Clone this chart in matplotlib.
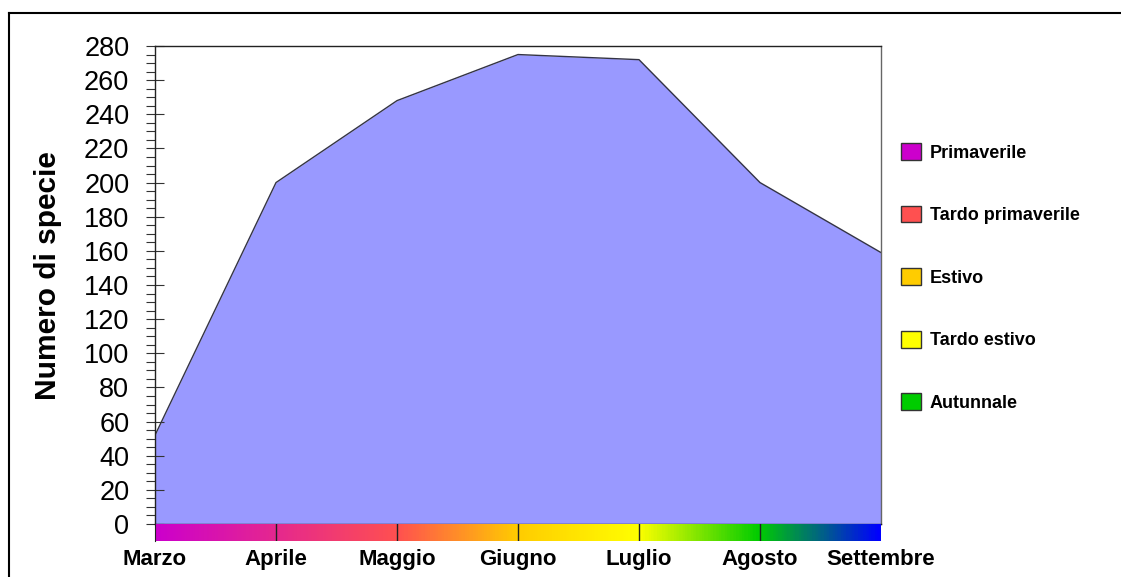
import numpy as np
import matplotlib
matplotlib.use("Agg")
import matplotlib.pyplot as plt
from matplotlib.colors import LinearSegmentedColormap
from matplotlib.patches import Patch
from matplotlib.lines import Line2D

plt.rcParams['font.family'] = ['Liberation Sans', 'DejaVu Sans']

# data
months = ['Marzo', 'Aprile', 'Maggio', 'Giugno', 'Luglio', 'Agosto', 'Settembre']
species = [52, 200, 248, 275, 272, 200, 159]

# colour bar under the x axis (stop position in months, colour)
bar_pos = [0, 2, 3, 4, 5, 6]
bar_colors = ['#CC00CC', '#FF5050', '#FFCC00', '#FFFF00', '#00CC00', '#0000FF']

legend_labels = ['Primaverile', 'Tardo primaverile', 'Estivo', 'Tardo estivo', 'Autunnale']
legend_colors = ['#CC00CC', '#FF5050', '#FFCC00', '#FFFF00', '#00CC00']

W, H = 1121, 577
fig = plt.figure(figsize=(W / 100, H / 100), dpi=100)

# main area chart
ax = fig.add_axes([155 / W, (H - 524) / H, 726 / W, 478 / H])
x = np.arange(len(months))
ax.fill_between(x, species, 0, color='#9999FF', lw=0)
ax.plot(x, species, color='#333344', lw=1)
ax.set_xlim(0, len(months) - 1)
ax.set_ylim(0, 280)
ax.set_yticks(range(0, 281, 20))
ax.set_yticks(range(0, 281, 5), minor=True)
ax.tick_params(axis='y', which='major', direction='inout', length=13, width=0.8,
               color='#333333', labelsize=19.5, pad=12)
ax.tick_params(axis='y', which='minor', direction='out', length=6.5, width=0.8,
               color='#333333')
ax.set_xticks([])
for s in ['left', 'top', 'bottom']:
    ax.spines[s].set_color('#222222')
    ax.spines[s].set_linewidth(1)
ax.spines['right'].set_color('#666666')
ax.spines['right'].set_linewidth(1)
ax.set_ylabel('Numero di specie', fontsize=21.5, fontweight='bold')
ax.yaxis.set_label_coords(-0.128, 0.52)

# gradient bar with month labels
bax = fig.add_axes([155 / W, (H - 541) / H, 726 / W, 17 / H])
cmap = LinearSegmentedColormap.from_list(
    'mesi', [(p / (len(months) - 1), c) for p, c in zip(bar_pos, bar_colors)])
grad = np.linspace(0, 1, 600).reshape(1, -1)
bax.imshow(grad, aspect='auto', cmap=cmap, extent=[0, len(months) - 1, 0, 1])
for i in x[1:-1]:
    bax.axvline(i, color='#222222', lw=1)
bax.set_xlim(0, len(months) - 1)
bax.set_ylim(0, 1)
bax.set_yticks([])
bax.set_xticks(x)
bax.set_xticklabels(months, fontsize=16, fontweight='bold')
bax.tick_params(axis='x', length=0, pad=6)
for s in ['top', 'right', 'bottom']:
    bax.spines[s].set_visible(False)
bax.spines['left'].set_color('#222222')

# legend
handles = [Patch(facecolor=c, edgecolor='#333333', lw=1) for c in legend_colors]
fig.legend(handles, legend_labels, loc='upper left',
           bbox_to_anchor=(901 / W, (H - 143) / H), frameon=False,
           prop={'size': 13, 'weight': 'bold'}, handlelength=1.1,
           handleheight=1.05, handletextpad=0.5, labelspacing=2.44,
           borderpad=0, borderaxespad=0)

# outer frame (top and left only)
fig.add_artist(Line2D([9 / W, 1], [(H - 13) / H, (H - 13) / H], color='black', lw=1.5))
fig.add_artist(Line2D([9 / W, 9 / W], [0, (H - 13) / H], color='black', lw=1.5))

fig.savefig('out.png', dpi=100)
